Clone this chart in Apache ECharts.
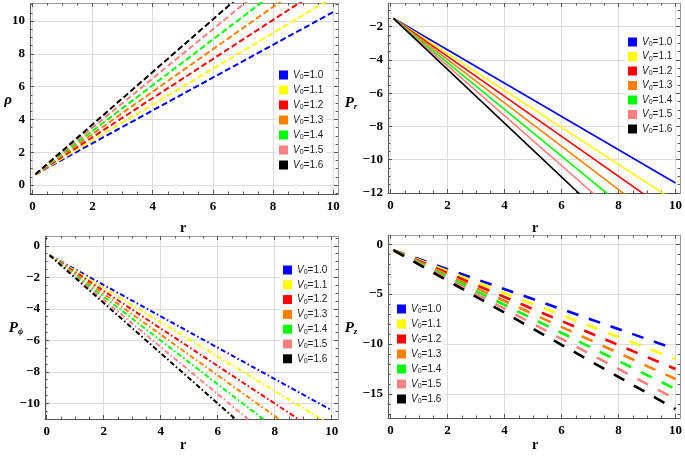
<!DOCTYPE html>
<html><head><meta charset="utf-8">
<script src="https://cdn.jsdelivr.net/npm/echarts@6/dist/echarts.min.js"></script>
<style>html,body{margin:0;padding:0;background:#fff}#c{width:685px;height:458px}</style>
</head><body><div id="c"></div>
<script>
// ---- data ----
const v0Labels = ['1.0','1.1','1.2','1.3','1.4','1.5','1.6'];
const seriesColors = ['#0000ff','#ffff00','#ff0000','#ff8000','#00ff00','#ff8080','#000000'];
const rValues = [0.1, 10];
const rhoStart  = [0.65, 0.65, 0.65, 0.65, 0.65, 0.65, 0.65];
const rhoEnd    = [10.55, 11.45, 12.45, 13.45, 14.45, 15.5, 16.5];
const prStart   = [-1.5, -1.5, -1.5, -1.5, -1.5, -1.5, -1.5];
const prEnd     = [-11.4, -12.5, -13.4, -14.4, -15.4, -16.35, -17.5];
const pphiStart = [-0.6, -0.6, -0.6, -0.6, -0.6, -0.6, -0.6];
const pphiEnd   = [-10.45, -11.4, -12.4, -13.4, -14.35, -15.4, -16.4];
const pzStart   = [-0.6, -0.6, -0.6, -0.6, -0.6, -0.6, -0.6];
const pzEnd     = [-10.5, -11.5, -12.5, -13.5, -14.5, -15.5, -16.5];
const xTickLabels    = [0, 2, 4, 6, 8, 10];
const rhoTickLabels  = [0, 2, 4, 6, 8, 10];
const prTickLabels   = [-12, -10, -8, -6, -4, -2];
const pphiTickLabels = [-10, -8, -6, -4, -2, 0];
const pzTickLabels   = [-15, -10, -5, 0];

// ---- layout / styling ----
const SERIF = 'Liberation Serif';
const SANS = 'Liberation Sans';
const panels = [
  { grid:{left:30, top:3, width:308, height:191}, xmin:-0.08, xmax:10.16, ymin:-0.55, ymax:11.1,
    yTicks:rhoTickLabels, yMinor:0.5, start:rhoStart, end:rhoEnd,
    line:{width:2, type:[6,3]}, legend:{left:276, top:66, gap:3} },
  { grid:{left:388, top:3, width:295, height:190}, xmin:-0.09, xmax:10.16, ymin:-12, ymax:-0.58,
    yTicks:prTickLabels, yMinor:0.5, start:prStart, end:prEnd,
    line:{width:1.6, type:'solid'}, legend:{left:625, top:33, gap:2.5} },
  { grid:{left:45, top:236, width:293, height:183}, xmin:-0.06, xmax:10.22, ymin:-11.0, ymax:0.62,
    yTicks:pphiTickLabels, yMinor:0.5, start:pphiStart, end:pphiEnd,
    line:{width:2, type:[5,2.5,1.5,2.5]}, legend:{left:280, top:261, gap:2.8} },
  { grid:{left:388, top:235, width:295, height:183}, xmin:-0.09, xmax:10.16, ymin:-17.4, ymax:0.92,
    yTicks:pzTickLabels, yMinor:1, start:pzStart, end:pzEnd,
    line:{width:2.6, type:[12,11]}, legend:{left:394, top:300, gap:3} }
];

function minorList(min, max, step, majors) {
  const out = [];
  for (let v = Math.ceil(min / step) * step; v <= max + 1e-9; v += step) {
    const r = Math.round(v * 1000) / 1000;
    if (majors.indexOf(r) < 0) out.push(r);
  }
  return out;
}
const fmt = v => String(v).replace('-', '\u2212');

const grids = [], xAxes = [], yAxes = [], series = [], legends = [];
panels.forEach((p, gi) => {
  grids.push(Object.assign({}, p.grid));
  const xMinor = minorList(p.xmin, p.xmax, 0.5, xTickLabels);
  const yMinor = minorList(p.ymin, p.ymax, p.yMinor, p.yTicks);
  const labelStyle = {fontFamily:SERIF, fontWeight:'bold', fontSize:13, color:'#000', formatter:fmt};
  const base = (pos, min, max) => ({type:'value', gridIndex:gi, position:pos, min:min, max:max,
    axisLine:{show:false, onZero:false}, axisTick:{show:false}, axisLabel:{show:false}, splitLine:{show:false}});
  const xb = base('bottom', p.xmin, p.xmax);
  xb.axisLine = {show:true, onZero:false, lineStyle:{color:'#555', width:1}};
  xb.axisTick = {show:true, inside:true, length:4, customValues:xTickLabels, lineStyle:{color:'#555'}};
  xb.axisLabel = Object.assign({show:true, margin:6, customValues:xTickLabels}, labelStyle);
  xb.splitLine = {show:true, lineStyle:{color:'#dcdcdc', width:1}};
  const xt = base('top', p.xmin, p.xmax);
  xt.axisLine = {show:true, onZero:false, lineStyle:{color:'#999', width:1}};
  xt.axisTick = {show:true, inside:true, length:4, customValues:xTickLabels, lineStyle:{color:'#555'}};
  const xbm = base('bottom', p.xmin, p.xmax);
  xbm.axisTick = {show:true, inside:true, length:2.5, customValues:xMinor, lineStyle:{color:'#555'}};
  const xtm = base('top', p.xmin, p.xmax);
  xtm.axisTick = {show:true, inside:true, length:2.5, customValues:xMinor, lineStyle:{color:'#555'}};
  xAxes.push(xb, xt, xbm, xtm);
  const yl = base('left', p.ymin, p.ymax);
  yl.axisLine = {show:true, onZero:false, lineStyle:{color:'#555', width:1}};
  yl.axisTick = {show:true, inside:true, length:4, customValues:p.yTicks, lineStyle:{color:'#555'}};
  yl.axisLabel = Object.assign({show:true, margin:5, customValues:p.yTicks}, labelStyle);
  yl.splitLine = {show:true, lineStyle:{color:'#dcdcdc', width:1}};
  const yr = base('right', p.ymin, p.ymax);
  yr.axisLine = {show:true, onZero:false, lineStyle:{color:'#999', width:1}};
  yr.axisTick = {show:true, inside:true, length:4, customValues:p.yTicks, lineStyle:{color:'#555'}};
  const ylm = base('left', p.ymin, p.ymax);
  ylm.axisTick = {show:true, inside:true, length:2.5, customValues:yMinor, lineStyle:{color:'#555'}};
  const yrm = base('right', p.ymin, p.ymax);
  yrm.axisTick = {show:true, inside:true, length:2.5, customValues:yMinor, lineStyle:{color:'#555'}};
  yAxes.push(yl, yr, ylm, yrm);

  v0Labels.forEach((lab, si) => {
    series.push({
      type:'line', name:lab, xAxisIndex:gi*4, yAxisIndex:gi*4,
      data:[[rValues[0], p.start[si]], [rValues[1], p.end[si]]],
      symbol:'none', showSymbol:false, clip:true, silent:true, animation:false,
      color:seriesColors[si], itemStyle:{color:seriesColors[si]},
      lineStyle:{color:seriesColors[si], width:p.line.width, type:p.line.type, cap:'butt'}
    });
  });
  legends.push({
    orient:'vertical', left:p.legend.left, top:p.legend.top, itemGap:p.legend.gap,
    padding:[3,3,3,3], backgroundColor:'#fff',
    icon:'rect', itemWidth:9, itemHeight:9, selectedMode:false,
    itemStyle:{borderWidth:0},
    data:v0Labels.map((l, i) => ({name:l, itemStyle:{color:seriesColors[i], borderWidth:0}})),
    formatter: n => '{i|V}{s|0}{t|=' + n + '}',
    textStyle:{fontFamily:SANS, fontSize:10, color:'#222', lineHeight:12,
      rich:{ i:{fontFamily:SANS, fontStyle:'italic', fontSize:10, lineHeight:12, color:'#222'},
             s:{fontFamily:SANS, fontSize:7, lineHeight:5, verticalAlign:'bottom', color:'#222'},
             t:{fontFamily:SANS, fontSize:10, lineHeight:12, color:'#222'} }}
  });
});

function title(x, y, text, rich) {
  return {type:'text', x:x, y:y, silent:true, z:100,
    style:{text:text, x:0, y:0, align:'center', verticalAlign:'middle',
      font:'bold 14px ' + SERIF, fill:'#000', rich:rich}};
}
const axRich = {
  p:{fontFamily:SERIF, fontWeight:'bold', fontStyle:'italic', fontSize:15, lineHeight:16},
  s:{fontFamily:SERIF, fontWeight:'bold', fontStyle:'italic', fontSize:9, lineHeight:8, verticalAlign:'bottom'},
  r:{fontFamily:SERIF, fontWeight:'bold', fontSize:14, lineHeight:16}
};
const graphics = [
  title(8, 100, '{p|\u03c1}', axRich),
  title(351, 103, '{p|P}{s|r}', axRich),
  title(16, 328, '{p|P}{s|\u03d5}', axRich),
  title(351, 328, '{p|P}{s|z}', axRich),
  title(183, 228, '{r|r}', axRich),
  title(535, 228, '{r|r}', axRich),
  title(183, 445, '{r|r}', axRich),
  title(535, 445, '{r|r}', axRich)
];

const chart = echarts.init(document.getElementById('c'), null, {renderer:'canvas'});
chart.setOption({
  animation:false, backgroundColor:'#fff',
  grid:grids, xAxis:xAxes, yAxis:yAxes, series:series, legend:legends, graphic:graphics
});
</script></body></html>
